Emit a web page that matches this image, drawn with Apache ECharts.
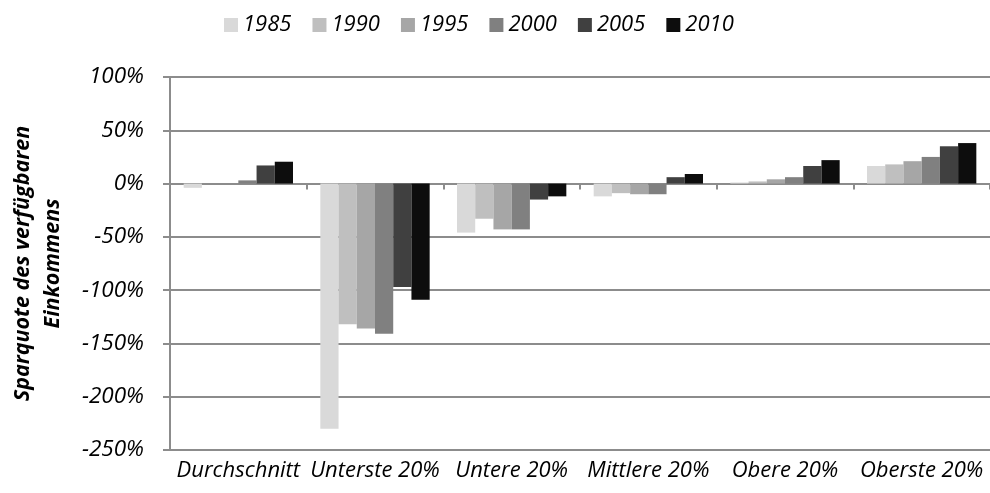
<!DOCTYPE html>
<html>
<head>
<meta charset="utf-8">
<script src="https://cdn.jsdelivr.net/npm/echarts@6/dist/echarts.min.js"></script>
<style>
html,body{margin:0;padding:0;background:#fff;}
#chart{width:990px;height:493px;}
</style>
</head>
<body>
<div id="chart"></div>
<script>
const categories = ['Durchschnitt', 'Unterste 20%', 'Untere 20%', 'Mittlere 20%', 'Obere 20%', 'Oberste 20%'];
const years = ['1985', '1990', '1995', '2000', '2005', '2010'];
const colors = ['#d9d9d9', '#bfbfbf', '#a6a6a6', '#808080', '#404040', '#0d0d0d'];
const v1985 = [-4, -230, -46, -12, 1, 16.5];
const v1990 = [0, -132, -33, -9, 2, 18];
const v1995 = [0, -136, -43, -10, 4, 21];
const v2000 = [3, -141, -43, -10, 6, 25];
const v2005 = [17, -97, -15, 6, 16.5, 35];
const v2010 = [20.5, -109, -12, 9, 22, 38];
const yTicks = { min: -250, max: 100, interval: 50 };

const seriesValues = [v1985, v1990, v1995, v2000, v2005, v2010];
const FONT = 'Open Sans';

const chart = echarts.init(document.getElementById('chart'), null, { renderer: 'canvas' });
chart.setOption({
  animation: false,
  backgroundColor: '#fff',
  color: colors,
  legend: {
    top: 9,
    left: 219,
    itemWidth: 14,
    itemHeight: 14,
    itemGap: 21,
    icon: 'rect',
    textStyle: { fontFamily: FONT, fontStyle: 'italic', fontSize: 22, color: '#000' },
    data: years
  },
  grid: { left: 170, right: 0, top: 77, bottom: 43, containLabel: false, outerBoundsMode: 'none' },
  xAxis: [
    {
      type: 'category',
      data: categories,
      axisLine: { onZero: true, lineStyle: { color: '#8c8c8c', width: 2 } },
      axisTick: { show: true, length: 6, alignWithLabel: false, lineStyle: { color: '#8c8c8c', width: 2 } },
      axisLabel: { show: false },
      splitLine: { show: false }
    },
    {
      type: 'category',
      data: categories,
      position: 'bottom',
      axisLine: { show: false, onZero: false },
      axisTick: { show: false },
      axisLabel: {
        show: true, margin: 10, interval: 0,
        fontFamily: FONT, fontStyle: 'italic', fontSize: 22, color: '#000'
      }
    }
  ],
  yAxis: {
    type: 'value',
    min: yTicks.min,
    max: yTicks.max,
    interval: yTicks.interval,
    name: 'Sparquote des verfügbaren\nEinkommens',
    nameLocation: 'middle',
    nameGap: 102,
    nameTextStyle: { fontFamily: FONT, fontStyle: 'italic', fontWeight: 'bold', fontSize: 21.5, color: '#000', lineHeight: 30 },
    axisLine: { show: true, lineStyle: { color: '#8c8c8c', width: 2 } },
    axisTick: { show: true, length: 7, lineStyle: { color: '#8c8c8c', width: 2 } },
    axisLabel: {
      margin: 26,
      formatter: '{value}%',
      fontFamily: FONT, fontStyle: 'italic', fontSize: 22.5, color: '#000'
    },
    splitLine: { show: true, lineStyle: { color: '#8c8c8c', width: 2 } }
  },
  series: years.map((y, i) => ({
    name: y,
    type: 'bar',
    xAxisIndex: 0,
    data: seriesValues[i],
    barGap: '0%',
    barCategoryGap: '20%',
    itemStyle: { color: colors[i] }
  }))
});
</script>
</body>
</html>
